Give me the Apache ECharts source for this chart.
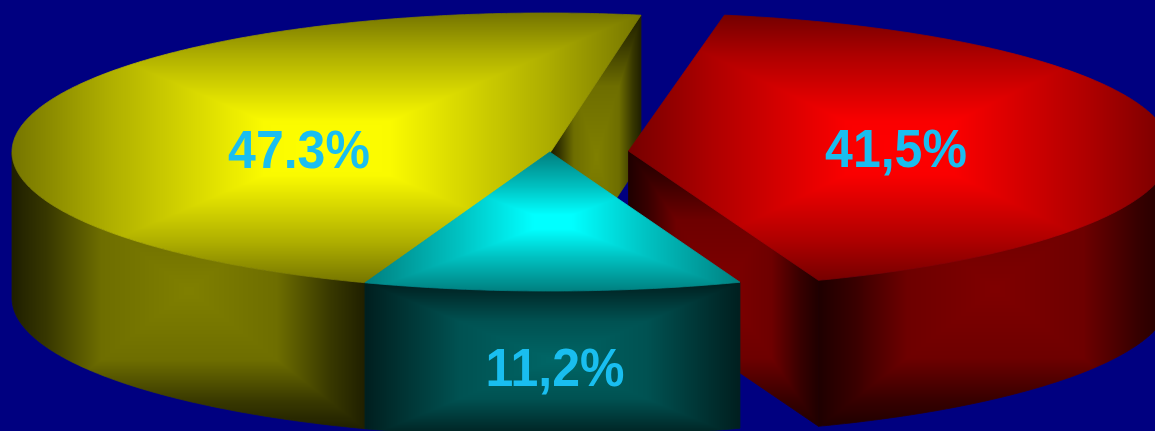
<!DOCTYPE html>
<html>
<head>
<meta charset="utf-8">
<style>html,body{margin:0;padding:0;background:#000080}#c{width:1155px;height:431px}</style>
<script src="https://cdn.jsdelivr.net/npm/echarts@6/dist/echarts.min.js"></script>
</head>
<body>
<div id="c"></div>
<script>
// Chart data
const sliceValues = [47.3, 41.5, 11.2];
const sliceLabels = ['47.3%', '41,5%', '11,2%'];
const sliceColors = [[255, 255, 0], [255, 0, 0], [0, 255, 255]];

// Layout (ellipse of each exploded slice, apex of its wedge, label anchor)
const sliceCenters = [[546.8, 152], [629, 151], [549.8, 152]];
const sliceApexes = [[551, 151.5], [628.5, 151], [549.8, 152]];
const sliceRadiiX = [534.8, 542, 544];
const sliceRadiiY = [139, 138, 139];
const labelAnchors = [[299, 153], [896, 152], [555, 371]];
const firstSliceStartDeg = 199.86;
const depth = 146;
const W = 1155, H = 431;
// Brightness by distance from a face's centre: [distance, brightness]
const TOP_SHADES = [
  [[0, 1], [0.2, 0.98], [0.7, 0.68], [1, 0.46]],
  [[0, 1], [0.2, 0.98], [0.7, 0.68], [1, 0.46]],
  [[0, 1], [0.1, 1], [0.5, 0.76], [1, 0.5]]
];
const SIDE_SHADES = [
  [[0, 0.5], [0.5, 0.43], [0.8, 0.22], [1, 0.12]],
  [[0, 0.5], [0.5, 0.43], [0.8, 0.22], [1, 0.12]],
  [[0, 0.4], [0.5, 0.32], [0.8, 0.2], [1, 0.12]]
];
const labelColor = '#19bef0';

// Angles (clockwise from north) derived from the values
const total = sliceValues.reduce((a, b) => a + b, 0);
const sliceAngles = [];
(function () {
  let a = firstSliceStartDeg;
  sliceValues.forEach(v => {
    const e = a + v / total * 360;
    sliceAngles.push([a, e]);
    a = e;
  });
})();

function rimPoint(i, deg, dy) {
  const r = deg * Math.PI / 180;
  return [
    sliceCenters[i][0] + sliceRadiiX[i] * Math.sin(r),
    sliceCenters[i][1] - sliceRadiiY[i] * Math.cos(r) + (dy || 0)
  ];
}
function arc(i, a0, a1, dy) {
  const n = Math.max(2, Math.ceil(Math.abs(a1 - a0) * 2));
  const pts = [];
  for (let k = 0; k <= n; k++) pts.push(rimPoint(i, a0 + (a1 - a0) * k / n, dy));
  return pts;
}
function brightness(profile, t) {
  for (let k = 1; k < profile.length; k++) {
    if (t <= profile[k][0]) {
      const p = profile[k - 1], q = profile[k];
      return p[1] + (q[1] - p[1]) * (t - p[0]) / (q[0] - p[0]);
    }
  }
  return profile[profile.length - 1][1];
}

// Rectangular (four-sided) gradient painted over a face's bounding box
function shadeCanvas(points, rgb, shade) {
  let x0 = Infinity, x1 = -Infinity, y0 = Infinity, y1 = -Infinity;
  points.forEach(p => {
    x0 = Math.min(x0, p[0]); x1 = Math.max(x1, p[0]);
    y0 = Math.min(y0, p[1]); y1 = Math.max(y1, p[1]);
  });
  const cx = (x0 + x1) / 2, cy = (y0 + y1) / 2;
  const hw = Math.max(1, (x1 - x0) / 2), hh = Math.max(1, (y1 - y0) / 2);
  const cv = document.createElement('canvas');
  cv.width = W; cv.height = H;
  const ctx = cv.getContext('2d');
  const img = ctx.createImageData(W, H);
  const d = img.data;
  for (let y = 0; y < H; y++) {
    for (let x = 0; x < W; x++) {
      const t = Math.min(1, Math.max(Math.abs(x - cx) / hw, Math.abs(y - cy) / hh));
      const b = brightness(shade, t);
      const o = (y * W + x) * 4;
      d[o] = rgb[0] * b; d[o + 1] = rgb[1] * b; d[o + 2] = rgb[2] * b; d[o + 3] = 255;
    }
  }
  ctx.putImageData(img, 0, 0);
  return cv;
}

function face(points, rgb, shade) {
  const image = shadeCanvas(points, rgb, shade);
  return {
    type: 'polygon',
    shape: { points: points },
    style: {
      fill: { image: image, repeat: 'no-repeat' },
      stroke: { image: image, repeat: 'no-repeat' },
      lineWidth: 0.8
    }
  };
}

// Front-facing outer wall: the part of the arc between 90 and 270 degrees
function outerWall(i, rgb) {
  const out = [];
  const [a0, a1] = sliceAngles[i];
  for (const off of [0, 360, -360]) {
    const s = Math.max(a0 + off, 90), e = Math.min(a1 + off, 270);
    if (e > s) {
      const upper = arc(i, s, e, 0);
      const lower = arc(i, e, s, depth);
      out.push(face(upper.concat(lower), rgb, SIDE_SHADES[i]));
    }
  }
  return out;
}

// Cut wall running from the apex to the rim at a given angle
function cutWall(i, deg, rgb) {
  const c = sliceApexes[i], p = rimPoint(i, deg, 0);
  const pts = [c, p, [p[0], p[1] + depth], [c[0], c[1] + depth]];
  return face(pts, rgb, SIDE_SHADES[i]);
}

function renderSlice(params, api) {
  const i = params.dataIndex;
  const rgb = sliceColors[i];
  const [a0, a1] = sliceAngles[i];
  const children = outerWall(i, rgb);
  if (i === 0 || i === 1) children.push(cutWall(i, a1, rgb));
  children.push(face([sliceApexes[i]].concat(arc(i, a0, a1, 0)), rgb, TOP_SHADES[i]));
  children.push({
    type: 'text',
    x: labelAnchors[i][0],
    y: labelAnchors[i][1],
    scaleY: 1.06,
    style: {
      text: sliceLabels[i],
      fill: labelColor,
      font: 'bold 50px "Liberation Sans", Arial, sans-serif',
      align: 'center',
      verticalAlign: 'middle'
    }
  });
  return { type: 'group', children: children };
}

const chart = echarts.init(document.getElementById('c'), null, { renderer: 'canvas', width: W, height: H });
chart.setOption({
  backgroundColor: '#000080',
  animation: false,
  series: [{
    type: 'custom',
    coordinateSystem: 'none',
    silent: true,
    clip: false,
    data: sliceValues.map(v => [v]),
    renderItem: renderSlice
  }]
});
</script>
</body>
</html>
